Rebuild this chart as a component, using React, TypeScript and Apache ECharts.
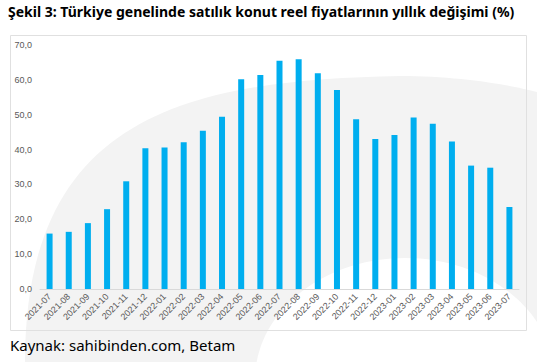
import React, { useEffect, useRef } from "react";
import * as echarts from "echarts";

const categories = [
  "2021-07", "2021-08", "2021-09", "2021-10", "2021-11", "2021-12",
  "2022-01", "2022-02", "2022-03", "2022-04", "2022-05", "2022-06",
  "2022-07", "2022-08", "2022-09", "2022-10", "2022-11", "2022-12",
  "2023-01", "2023-02", "2023-03", "2023-04", "2023-05", "2023-06", "2023-07",
];
const values = [
  15.9, 16.4, 18.9, 22.9, 30.9, 40.4, 40.6, 42.1, 45.4, 49.4, 60.2, 61.4,
  65.5, 65.9, 61.9, 57.1, 48.7, 43.0, 44.2, 49.2, 47.4, 42.3, 35.4, 34.8, 23.5,
];
const yTicks = [0, 10, 20, 30, 40, 50, 60, 70];
const titleText = "Şekil 3: Türkiye genelinde satılık konut reel fiyatlarının yıllık değişimi (%)";
const sourceText = "Kaynak: sahibinden.com, Betam";

export default function App() {
  const ref = useRef<HTMLDivElement>(null);
  useEffect(() => {
    document.body.style.margin = "0";
    const Outer = echarts.graphic.extendShape({
      shape: {},
      buildPath(ctx: any) {
        ctx.moveTo(25, 362);
        ctx.bezierCurveTo(25, 120, 180, 80, 400, 76);
        ctx.bezierCurveTo(460, 76, 510, 85, 537, 92);
        ctx.lineTo(537, 362);
        ctx.closePath();
      },
    });
    echarts.graphic.registerShape("wmOuter2", Outer as any);
    const chart = echarts.init(ref.current!, null, { renderer: "svg" });
    chart.setOption({
      animation: false,
      backgroundColor: "#ffffff",
      graphic: [
        {
          type: "wmOuter2",
          z: -10,
          silent: true,
          style: { fill: "#f3f3f3" },
        },
        {
          type: "ellipse",
          z: -9,
          silent: true,
          shape: { cx: 405, cy: 380, rx: 150, ry: 122 },
          style: { fill: "#ffffff" },
        },
        {
          type: "rect",
          z: -5,
          silent: true,
          shape: { x: 10.5, y: 35.5, width: 516, height: 295 },
          style: { fill: "none", stroke: "#e0e0e0", lineWidth: 1 },
        },
        {
          type: "text",
          left: 8,
          top: 4,
          style: {
            text: titleText,
            font: "bold 14px 'Noto Sans', sans-serif",
            fill: "#000000",
          },
        },
        {
          type: "text",
          left: 10,
          top: 337,
          style: {
            text: sourceText,
            font: "15px 'Noto Sans', sans-serif",
            fill: "#000000",
          },
        },
      ],
      grid: { left: 40, right: 18, top: 45, bottom: 73, containLabel: false },
      xAxis: {
        type: "category",
        data: categories,
        axisLine: { show: true, lineStyle: { color: "#d9d9d9", width: 1 } },
        axisTick: { show: false },
        axisLabel: {
          rotate: 45,
          interval: 0,
          fontSize: 9,
          color: "#595959",
          fontFamily: "Arial, 'Liberation Sans', sans-serif",
          margin: 6,
        },
      },
      yAxis: {
        type: "value",
        min: yTicks[0],
        max: yTicks[yTicks.length - 1],
        interval: 10,
        axisLine: { show: false },
        axisTick: { show: false },
        splitLine: { show: false },
        axisLabel: {
          fontSize: 9,
          color: "#595959",
          fontFamily: "Arial, 'Liberation Sans', sans-serif",
          margin: 8,
          formatter: (v: number) => v.toFixed(1).replace(".", ","),
        },
      },
      series: [
        {
          type: "bar",
          data: values,
          barWidth: 6,
          itemStyle: { color: "#00aeef" },
        },
      ],
    });
    return () => chart.dispose();
  }, []);
  return <div ref={ref} style={{ width: 537, height: 362 }} />;
}
